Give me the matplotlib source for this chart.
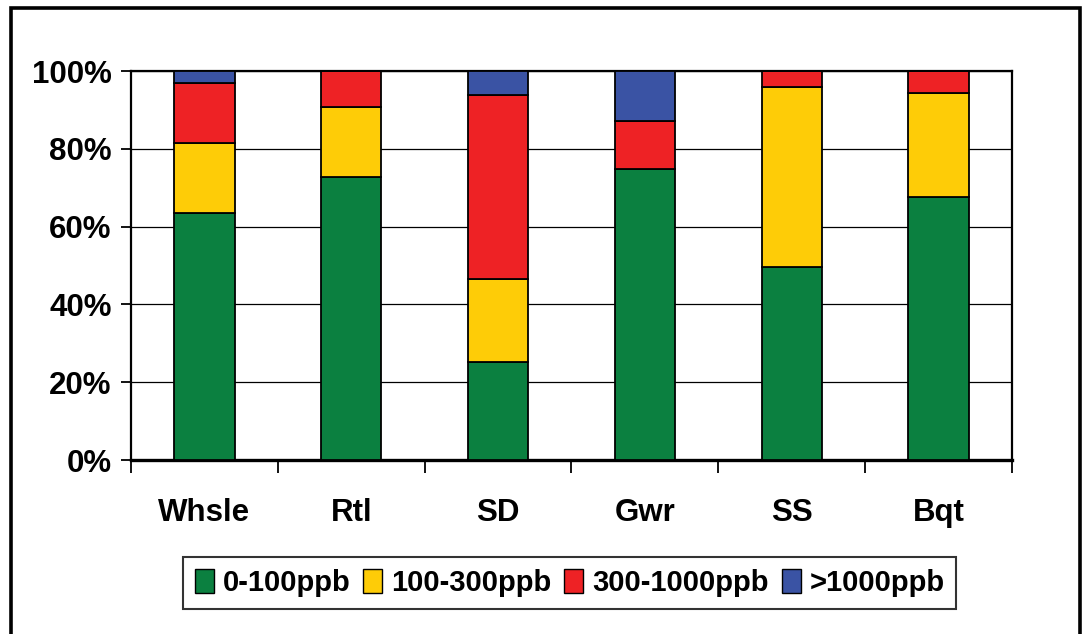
import matplotlib.pyplot as plt
from matplotlib.patches import Rectangle
from matplotlib.ticker import FixedLocator, PercentFormatter

categories = ['Whsle', 'Rtl', 'SD', 'Gwr', 'SS', 'Bqt']
series_names = ['0-100ppb', '100-300ppb', '300-1000ppb', '>1000ppb']
low = [63.6, 72.8, 25.1, 74.8, 49.7, 67.6]
mid = [17.9, 18.0, 21.5, 0.0, 46.2, 26.7]
high = [15.5, 9.2, 47.3, 12.4, 4.1, 5.7]
top = [3.0, 0.0, 6.1, 12.8, 0.0, 0.0]
colors = ['#0b8040', '#fecc07', '#ee2225', '#3a53a4']

plt.rcParams['font.family'] = ['Liberation Sans', 'DejaVu Sans']
plt.rcParams['font.weight'] = 'bold'

fig = plt.figure(figsize=(10.83, 6.34), dpi=100)
ax = fig.add_axes([0.121, 0.2744, 0.8134, 0.6136])

x = range(len(categories))
bottom = [0.0] * len(categories)
for name, vals, c in zip(series_names, [low, mid, high, top], colors):
    ax.bar(x, vals, width=0.41, bottom=bottom, color=c, edgecolor='black',
           linewidth=1.3, label=name, zorder=3)
    bottom = [b + v for b, v in zip(bottom, vals)]

ax.set_xlim(-0.5, len(categories) - 0.5)
ax.set_ylim(0, 100)
ax.yaxis.set_major_locator(FixedLocator([0, 20, 40, 60, 80, 100]))
ax.yaxis.set_major_formatter(PercentFormatter(decimals=0))
ax.grid(axis='y', color='black', linewidth=0.9, zorder=0)

ax.xaxis.set_major_locator(FixedLocator([i - 0.5 for i in range(len(categories) + 1)]))
ax.xaxis.set_major_formatter(plt.NullFormatter())
ax.xaxis.set_minor_locator(FixedLocator(list(x)))
ax.set_xticklabels(categories, minor=True)
ax.tick_params(axis='x', which='major', length=9, width=1.3, direction='out')
ax.tick_params(axis='x', which='minor', length=0, pad=27, labelsize=22.5)
ax.tick_params(axis='y', length=7, width=1.3, pad=7, labelsize=22.5)

for s in ['left', 'top', 'right']:
    ax.spines[s].set_linewidth(1.6)
ax.spines['bottom'].set_linewidth(2.4)

leg = ax.legend(loc='center', bbox_to_anchor=(0.526, 0.0804),
                bbox_transform=fig.transFigure, ncol=4, fontsize=21,
                frameon=True, fancybox=False, edgecolor='black',
                handlelength=0.65, handleheight=0.85, handletextpad=0.3,
                columnspacing=0.45, borderpad=0.4, borderaxespad=0)
leg.get_frame().set_linewidth(1.5)
for h in leg.legend_handles:
    h.set_linewidth(1.0)

# outer chart frame
fig.patches.append(Rectangle((10.5 / 1083, -0.05), 1069.5 / 1083, 1 - 8 / 634 + 0.05,
                             transform=fig.transFigure, fill=False,
                             edgecolor='black', linewidth=2.6))

fig.savefig('out.png', dpi=100)
